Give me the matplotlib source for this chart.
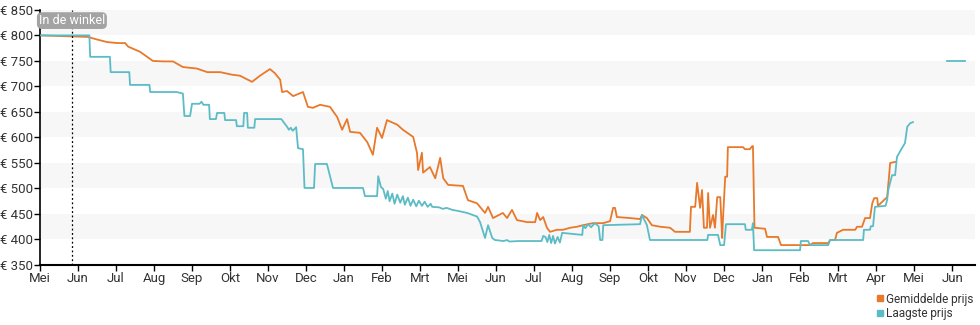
import matplotlib
matplotlib.use("Agg")
import matplotlib.pyplot as plt
from matplotlib.lines import Line2D

plt.rcParams['font.family'] = ['Roboto', 'DejaVu Sans']

# maand-as: 0 = Mei (jaar 1), elke maand 1 eenheid
months = ['Mei', 'Jun', 'Jul', 'Aug', 'Sep', 'Okt', 'Nov', 'Dec', 'Jan', 'Feb', 'Mrt', 'Mei',
          'Jun', 'Jul', 'Aug', 'Sep', 'Okt', 'Nov', 'Dec', 'Jan', 'Feb', 'Mrt', 'Apr', 'Mei', 'Jun']
y_ticks = [350, 400, 450, 500, 550, 600, 650, 700, 750, 800, 850]

# Gemiddelde prijs
avg_x = [0, 1.26, 1.5, 1.76, 2.03, 2.24, 2.32, 2.63, 2.97, 3.24, 3.5, 3.76, 4.13, 4.4, 4.74, 5.05,
         5.26, 5.58, 5.79, 6.05, 6.18, 6.32, 6.37, 6.5, 6.66, 6.92, 7.05, 7.18, 7.37, 7.63, 7.82,
         7.95, 8.08, 8.16, 8.42, 8.61, 8.76, 8.87, 9.0, 9.13, 9.4, 9.55, 9.82, 9.92, 9.95, 10.05,
         10.08, 10.26, 10.4, 10.53, 10.61, 10.74, 11.13, 11.26, 11.5, 11.71, 11.79, 11.92, 12.18,
         12.29, 12.42, 12.55, 12.82, 13.03, 13.08, 13.16, 13.24, 13.34, 13.42, 13.6, 13.76, 13.95,
         14.13, 14.29, 14.55, 14.82, 15.0, 15.08, 15.13, 15.18, 15.53, 15.79, 15.84, 15.97, 16.1,
         16.32, 16.58, 16.71, 17.1, 17.13, 17.24, 17.29, 17.37, 17.42, 17.47, 17.55, 17.58, 17.63,
         17.71, 17.76, 17.82, 17.9, 17.95, 17.97, 18.03, 18.08, 18.1, 18.5, 18.55, 18.68, 18.74,
         18.76, 18.8, 19.08, 19.13, 19.42, 19.5, 20.26, 20.34, 20.74, 20.79, 20.92, 20.97, 21.13,
         21.45, 21.5, 21.63, 21.71, 21.84, 21.9, 21.95, 22.03, 22.05, 22.29, 22.34, 22.37, 22.5]
avg_y = [800, 797, 792, 787, 785, 785, 778, 768, 750, 749, 749, 738, 735, 728, 728, 723,
         721, 709, 721, 734, 726, 713, 689, 691, 681, 689, 660, 658, 664, 660, 640,
         615, 636, 611, 609, 591, 566, 619, 599, 634, 625, 615, 601, 570, 536, 570,
         531, 542, 520, 560, 520, 507, 505, 477, 471, 452, 464, 442, 452,
         442, 458, 438, 434, 434, 452, 438, 444, 423, 415, 419, 419, 423,
         425, 428, 432, 432, 436, 462, 462, 444, 442, 440, 448, 442, 428,
         425, 423, 415, 415, 464, 464, 511, 462, 497, 423, 423, 491, 423,
         448, 423, 483, 483, 403, 438, 523, 523, 581, 581, 577, 577, 583,
         583, 423, 421, 405, 405, 389, 389, 393, 393, 399, 399, 413, 419,
         419, 425, 425, 442, 442, 471, 481, 481, 466, 483, 523, 550, 552]

# Laagste prijs
low_x = [0, 1.30, 1.32, 1.84, 1.86, 2.35, 2.37, 2.88, 2.9, 3.6, 3.76, 3.80, 3.95, 4.0, 4.2, 4.25,
         4.3, 4.45, 4.47, 4.63, 4.66, 4.85, 4.87, 5.16, 5.18, 5.35, 5.37, 5.45, 5.47, 5.64, 5.66,
         6.35, 6.5, 6.55, 6.6, 6.65, 6.74, 6.79, 6.92, 6.96, 7.21, 7.24, 7.55, 7.71, 8.5, 8.55,
         8.87, 8.9, 8.97, 9.03, 9.1, 9.15, 9.2, 9.27, 9.33, 9.4, 9.48, 9.55, 9.6, 9.68, 9.75, 9.82,
         9.9, 9.97, 10.05, 10.12, 10.2, 10.28, 10.32, 10.5, 10.6, 10.7, 10.85, 11.0, 11.24, 11.5,
         11.58, 11.71, 11.79, 11.9, 11.97, 12.2, 12.29, 12.35, 12.6, 13.2, 13.24, 13.3, 13.35, 13.4,
         13.45, 13.5, 13.55, 13.62, 13.68, 13.74, 14.27, 14.29, 14.35, 14.42, 14.5, 14.6, 14.7,
         14.74, 14.8, 14.82, 15.79, 15.84, 15.97, 16.05, 17.56, 17.58, 17.84, 17.9, 18.0, 18.05,
         18.55, 18.57, 18.73, 18.76, 18.79, 20.0, 20.02, 20.21, 20.26, 20.74, 20.79, 21.66, 21.68,
         21.84, 21.86, 21.92, 21.97, 22.25, 22.29, 22.32, 22.42, 22.5, 22.55, 22.68, 22.76, 22.82,
         22.9, 22.97]
low_y = [800, 800, 758, 758, 728, 728, 703, 703, 689, 689, 686, 642, 642, 666, 666, 670,
         664, 664, 636, 636, 648, 648, 634, 634, 622, 622, 648, 648, 619, 619, 636,
         636, 621, 615, 619, 613, 620, 579, 577, 501, 501, 548, 548, 501, 501, 485,
         485, 524, 503, 499, 480, 495, 475, 490, 470, 488, 472, 485, 468, 482, 466, 478,
         465, 476, 466, 474, 464, 470, 464, 463, 460, 462, 458, 456, 452, 445,
         434, 403, 428, 403, 399, 397, 399, 396, 397, 397, 407, 405, 395, 409,
         393, 407, 392, 405, 394, 413, 409, 428, 422, 430, 424, 432, 426,
         399, 399, 428, 430, 448, 428, 399, 399, 409, 409, 389, 389, 430,
         430, 419, 419, 432, 379, 379, 397, 397, 389, 389, 399, 399, 419,
         419, 426, 426, 464, 466, 477, 497, 526, 526, 562, 579, 589, 621,
         628, 630]

# los stukje laagste prijs rechts
low2_x = [23.87, 24.34]
low2_y = [750, 750]

store_x = 0.84  # "In de winkel"

orange = '#e8792b'
teal = '#5cbcc6'

fig = plt.figure(figsize=(9.8, 3.25), dpi=100)
ax = fig.add_axes([0.0408, 0.1846, 0.954, 0.785])

# grijze banden
for lo in [400, 500, 600, 700, 800]:
    ax.axhspan(lo, lo + 50, color='#f7f7f7', lw=0, zorder=0)

ax.plot(avg_x, avg_y, color=orange, lw=1.3, zorder=2)
ax.plot(low_x, low_y, color=teal, lw=1.3, zorder=3)
ax.plot(low2_x, low2_y, color=teal, lw=1.3, zorder=3)

ax.axvline(store_x, color='black', lw=0.9, ls=(0, (1.5, 2)), zorder=4)
ax.text(store_x, 829, 'In de winkel', ha='center', va='center', color='white', fontsize=9,
        bbox=dict(boxstyle='round,pad=0.15,rounding_size=0.4', fc='#a3a3a3', ec='none'), zorder=5)

ax.set_xlim(0, 24.6)
ax.set_ylim(350, 850)
ax.set_xticks(range(len(months)))
ax.set_xticklabels(months)
ax.set_yticks(y_ticks)
ax.set_yticklabels(['€ %d' % v for v in y_ticks])
ax.tick_params(axis='both', labelsize=9.5, labelcolor='#333333', length=4, width=1, pad=1)

for s in ['top', 'right']:
    ax.spines[s].set_visible(False)
ax.spines['left'].set_linewidth(1.2)
ax.spines['bottom'].set_linewidth(1.5)

handles = [Line2D([], [], marker='s', ls='none', color=orange, markersize=5),
           Line2D([], [], marker='s', ls='none', color=teal, markersize=5)]
fig.legend(handles, ['Gemiddelde prijs', 'Laagste prijs'], loc='upper left',
           bbox_to_anchor=(0.888, 0.118), frameon=False, fontsize=8.5, handletextpad=0.1,
           labelspacing=0.1, handlelength=0.7, borderpad=0, labelcolor='#333333')

fig.savefig('out.png', dpi=100)
